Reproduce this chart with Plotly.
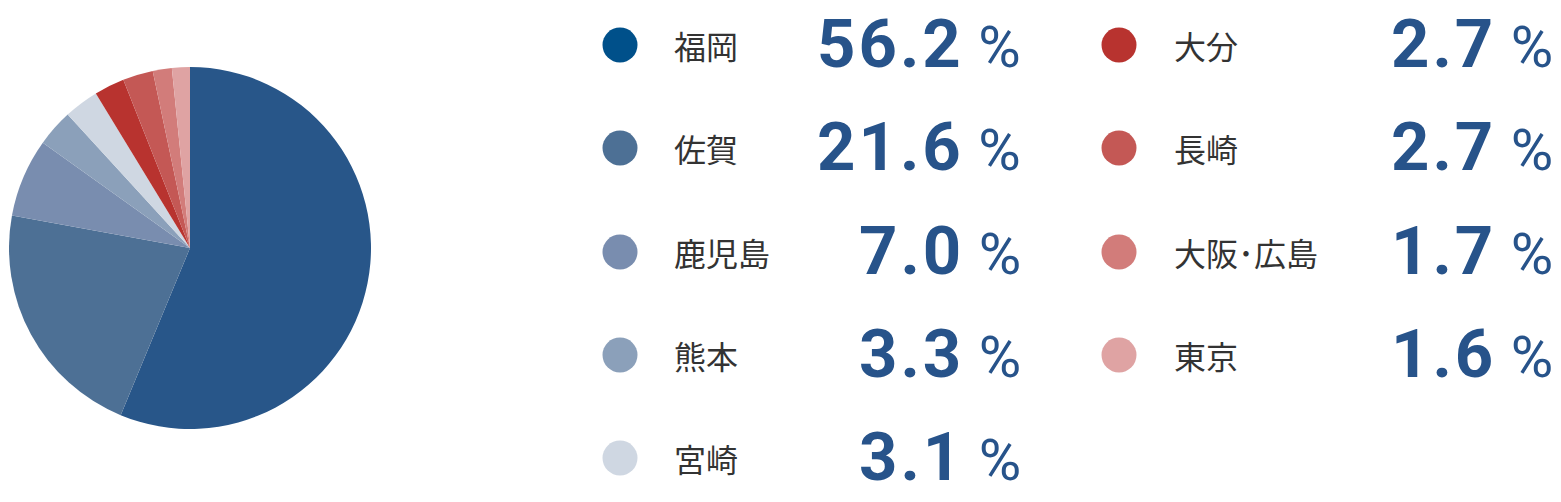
import plotly.graph_objects as go

# 出荷先の構成比
names = ["福岡", "佐賀", "鹿児島", "熊本", "宮崎", "大分", "長崎", "大阪･広島", "東京"]
shares = [56.2, 21.6, 7.0, 3.3, 3.1, 2.7, 2.7, 1.7, 1.6]
pie_colors = ["#285689", "#4D7095", "#798DAF", "#8BA0BA", "#CFD7E2",
              "#B8332F", "#C45855", "#D27C7A", "#DFA3A3"]
dot_colors = ["#00508A"] + pie_colors[1:]

W, H = 1561, 502

fig = go.Figure()

fig.add_trace(go.Pie(
    labels=names, values=shares, sort=False, direction="clockwise", rotation=0,
    marker=dict(colors=pie_colors, line=dict(width=0)),
    textinfo="none", hoverinfo="label+percent", showlegend=False,
    domain=dict(x=[9 / W, 371 / W], y=[73 / H, 435 / H]),
))

# legend layout: two columns, five rows
col_dot_x = [620, 1119]
col_label_x = [672, 1172]
col_num_x = [1023, 1555]
row_y = [45, 148, 252, 355, 458]

dot_x, dot_y = [], []
for i, (n, v) in enumerate(zip(names, shares)):
    c = 0 if i < 5 else 1
    r = i if i < 5 else i - 5
    dot_x.append(col_dot_x[c])
    dot_y.append(row_y[r])
    fig.add_annotation(
        x=col_label_x[c], y=row_y[r], xref="x", yref="y",
        text=n, showarrow=False, xanchor="left", yanchor="middle",
        font=dict(family="Noto Sans CJK JP", size=32, color="#333333"),
    )
    fig.add_annotation(
        x=col_num_x[c], y=row_y[r] - 1, xref="x", yref="y",
        text=(f"<span style='letter-spacing:3px'>{v:.1f}</span>"
              f"<span style='font-size:58px;font-weight:400'> %</span>"),
        showarrow=False, xanchor="right", yanchor="middle",
        font=dict(family="Roboto", size=67, color="#27538A", weight="bold"),
    )

fig.add_trace(go.Scatter(
    x=dot_x, y=dot_y, mode="markers", hoverinfo="skip", showlegend=False,
    marker=dict(size=35, color=dot_colors, line=dict(width=0)),
))

fig.update_xaxes(range=[0, W], visible=False, fixedrange=True)
fig.update_yaxes(range=[H, 0], visible=False, fixedrange=True)
fig.update_layout(
    width=W, height=H, margin=dict(l=0, r=0, t=0, b=0),
    paper_bgcolor="white", plot_bgcolor="white",
)

fig.write_html("out.html", config={"displayModeBar": False},
               post_script="document.body.style.margin='0';")
